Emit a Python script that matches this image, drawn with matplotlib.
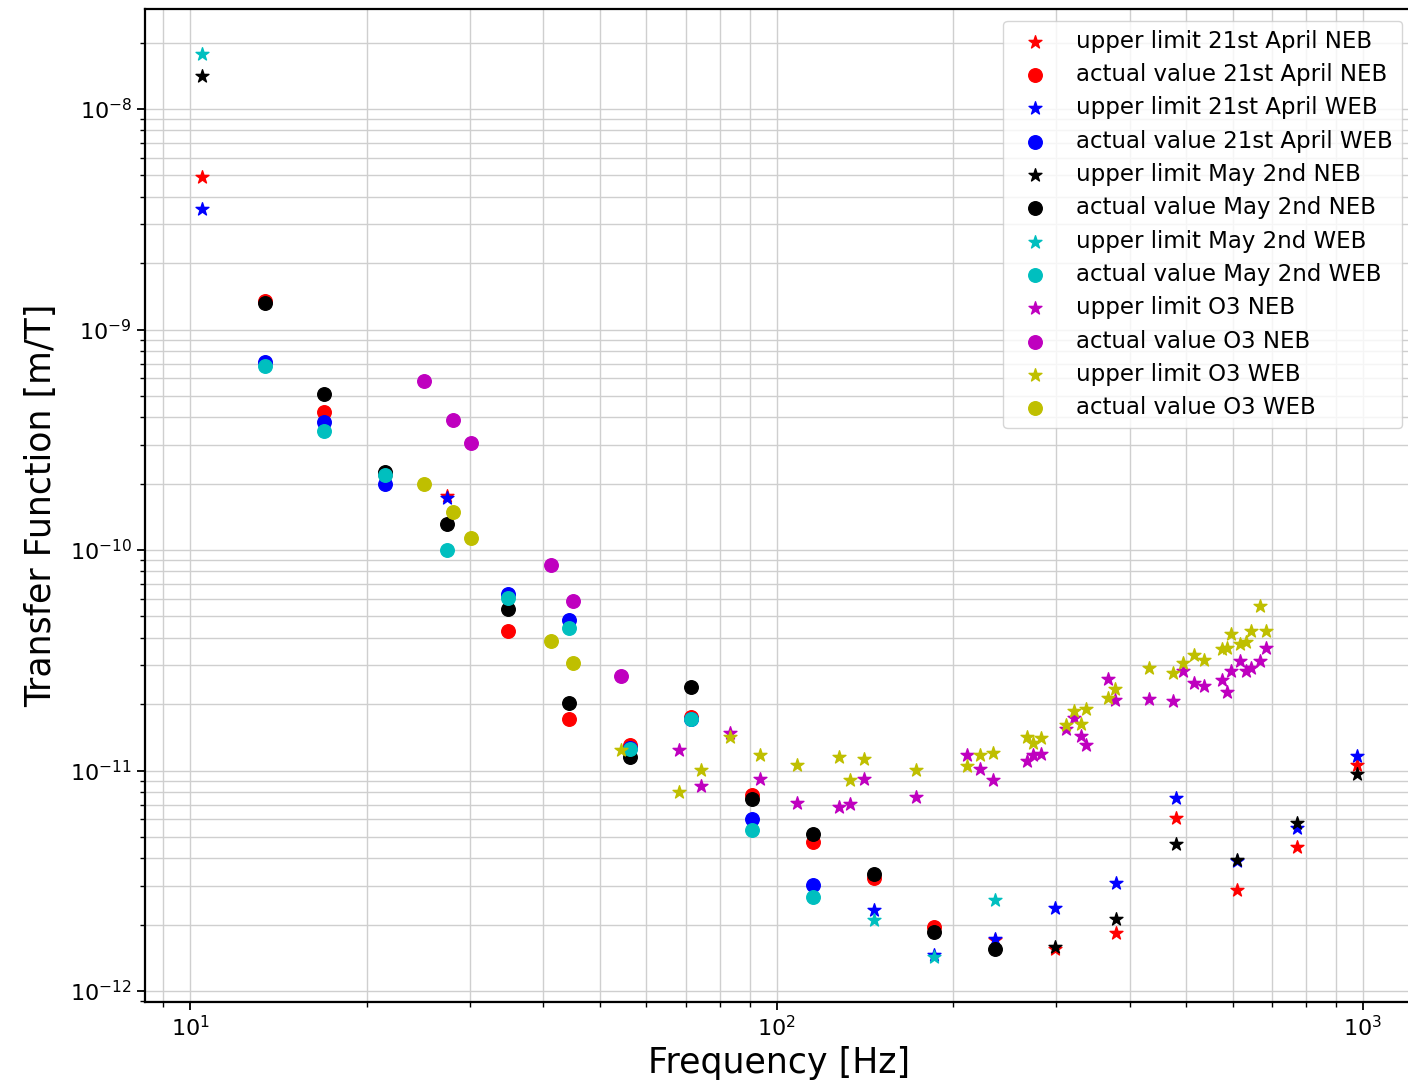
import matplotlib
matplotlib.use("Agg")
import matplotlib.pyplot as plt

# frequencies of the April / May campaigns [Hz]
f_ul_apr_neb = [10.5, 27.4, 235.8, 298.5, 378.8, 480, 609, 771, 975.5]
ul_apr_neb = [4.92e-9, 1.75e-10, 1.70e-12, 1.55e-12, 1.84e-12, 6.12e-12, 2.87e-12, 4.5e-12, 1.06e-11]
f_av_apr_neb = [13.4, 16.9, 21.5, 34.8, 44.3, 56.3, 71.5, 90.9, 115.3, 146.7, 185.8]
av_apr_neb = [1.35e-9, 4.24e-10, 2.22e-10, 4.28e-11, 1.72e-11, 1.31e-11, 1.75e-11, 7.78e-12, 4.72e-12, 3.24e-12, 1.95e-12]

f_ul_apr_web = [10.5, 27.4, 146.7, 185.8, 235.8, 298.5, 378.8, 480, 609, 771, 975.5]
ul_apr_web = [3.53e-9, 1.73e-10, 2.33e-12, 1.45e-12, 1.73e-12, 2.37e-12, 3.08e-12, 7.54e-12, 3.9e-12, 5.46e-12, 1.16e-11]
f_av_apr_web = [13.4, 16.9, 21.5, 34.8, 44.3, 56.3, 71.5, 90.9, 115.3]
av_apr_web = [7.09e-10, 3.79e-10, 2.0e-10, 6.29e-11, 4.8e-11, 1.27e-11, 1.72e-11, 6.05e-12, 3.02e-12]

f_ul_may_neb = [10.5, 298.5, 378.8, 480, 609, 771, 975.5]
ul_may_neb = [1.41e-8, 1.59e-12, 2.12e-12, 4.62e-12, 3.92e-12, 5.81e-12, 9.6e-12]
f_av_may_neb = [13.4, 16.9, 21.5, 27.4, 34.8, 44.3, 56.3, 71.5, 90.9, 115.3, 146.7, 185.8, 235.8]
av_may_neb = [1.32e-9, 5.1e-10, 2.27e-10, 1.31e-10, 5.41e-11, 2.02e-11, 1.15e-11, 2.39e-11, 7.46e-12, 5.14e-12, 3.39e-12, 1.86e-12, 1.55e-12]

f_ul_may_web = [10.5, 146.7, 185.8, 235.8]
ul_may_web = [1.77e-8, 2.1e-12, 1.43e-12, 2.6e-12]
f_av_may_web = [13.4, 16.9, 21.5, 27.4, 34.8, 44.3, 56.3, 71.5, 90.9, 115.3]
av_may_web = [6.86e-10, 3.45e-10, 2.18e-10, 1.0e-10, 6.07e-11, 4.44e-11, 1.25e-11, 1.72e-11, 5.36e-12, 2.67e-12]

# O3
f_ul_o3 = [68.3, 74.2, 83.4, 93.8, 108.5, 127.6, 133.6, 141, 173, 211, 222, 234, 267, 274, 283,
           311, 321, 330, 337, 368, 378, 431, 475, 494, 516, 535, 576, 586, 596, 618, 631, 644, 667, 683]
ul_o3_neb = [1.245e-11, 8.5e-12, 1.48e-11, 9.18e-12, 7.13e-12, 6.84e-12, 7.03e-12, 9.13e-12, 7.6e-12,
             1.17e-11, 1.02e-11, 9.1e-12, 1.11e-11, 1.17e-11, 1.19e-11, 1.55e-11, 1.73e-11, 1.43e-11,
             1.31e-11, 2.59e-11, 2.09e-11, 2.12e-11, 2.06e-11, 2.84e-11, 2.49e-11, 2.42e-11, 2.58e-11,
             2.27e-11, 2.84e-11, 3.13e-11, 2.82e-11, 2.93e-11, 3.13e-11, 3.60e-11]
f_ul_o3_web = [54.3] + f_ul_o3
ul_o3_web = [1.245e-11, 7.95e-12, 1.01e-11, 1.42e-11, 1.17e-11, 1.057e-11, 1.15e-11, 9.03e-12, 1.125e-11,
             1.01e-11, 1.05e-11, 1.17e-11, 1.2e-11, 1.42e-11, 1.33e-11, 1.40e-11, 1.61e-11, 1.87e-11,
             1.63e-11, 1.91e-11, 2.14e-11, 2.35e-11, 2.92e-11, 2.78e-11, 3.07e-11, 3.35e-11, 3.18e-11,
             3.57e-11, 3.59e-11, 4.14e-11, 3.73e-11, 3.82e-11, 4.29e-11, 5.56e-11, 4.29e-11]
f_av_o3_neb = [25.1, 28.1, 30.1, 41.2, 44.9, 54.3]
av_o3_neb = [5.86e-10, 3.90e-10, 3.05e-10, 8.51e-11, 5.90e-11, 2.68e-11]
f_av_o3_web = [25.1, 28.1, 30.1, 41.2, 44.9]
av_o3_web = [2.0e-10, 1.48e-10, 1.13e-10, 3.85e-11, 3.07e-11]

plt.rcParams['font.family'] = 'DejaVu Sans'
fig = plt.figure(figsize=(14.08, 10.84), dpi=100)
ax = fig.add_axes([0.103, 0.0756, 0.901, 0.916])

s = 95
ax.scatter(f_ul_apr_neb, ul_apr_neb, s=s, marker='*', color='r', label='upper limit 21st April NEB')
ax.scatter(f_av_apr_neb, av_apr_neb, s=s, marker='o', color='r', label='actual value 21st April NEB')
ax.scatter(f_ul_apr_web, ul_apr_web, s=s, marker='*', color='b', label='upper limit 21st April WEB')
ax.scatter(f_av_apr_web, av_apr_web, s=s, marker='o', color='b', label='actual value 21st April WEB')
ax.scatter(f_ul_may_neb, ul_may_neb, s=s, marker='*', color='k', label='upper limit May 2nd NEB')
ax.scatter(f_av_may_neb, av_may_neb, s=s, marker='o', color='k', label='actual value May 2nd NEB')
ax.scatter(f_ul_may_web, ul_may_web, s=s, marker='*', color='c', label='upper limit May 2nd WEB')
ax.scatter(f_av_may_web, av_may_web, s=s, marker='o', color='c', label='actual value May 2nd WEB')
ax.scatter(f_ul_o3, ul_o3_neb, s=s, marker='*', color='m', label='upper limit O3 NEB')
ax.scatter(f_av_o3_neb, av_o3_neb, s=s, marker='o', color='m', label='actual value O3 NEB')
ax.scatter(f_ul_o3_web, ul_o3_web, s=s, marker='*', color='y', label='upper limit O3 WEB')
ax.scatter(f_av_o3_web, av_o3_web, s=s, marker='o', color='y', label='actual value O3 WEB')

ax.set_xscale('log')
ax.set_yscale('log')
ax.set_xlim(8.38, 1220)
ax.set_ylim(10**-12.05, 10**-7.547)
ax.grid(which='both', color='#cfcfcf', linewidth=1.0)
ax.set_axisbelow(True)
for sp in ax.spines.values():
    sp.set_linewidth(1.6)
ax.tick_params(which='major', labelsize=16, length=6, width=1.3)
ax.tick_params(which='minor', length=3.5, width=1.0)

ax.set_xlabel('Frequency [Hz]', fontsize=25)
ax.set_ylabel('Transfer Function [m/T]', fontsize=25, labelpad=8)
ax.legend(loc='upper right', fontsize=16.5, labelspacing=0.45, framealpha=0.8)

fig.savefig('out.png', dpi=100)
